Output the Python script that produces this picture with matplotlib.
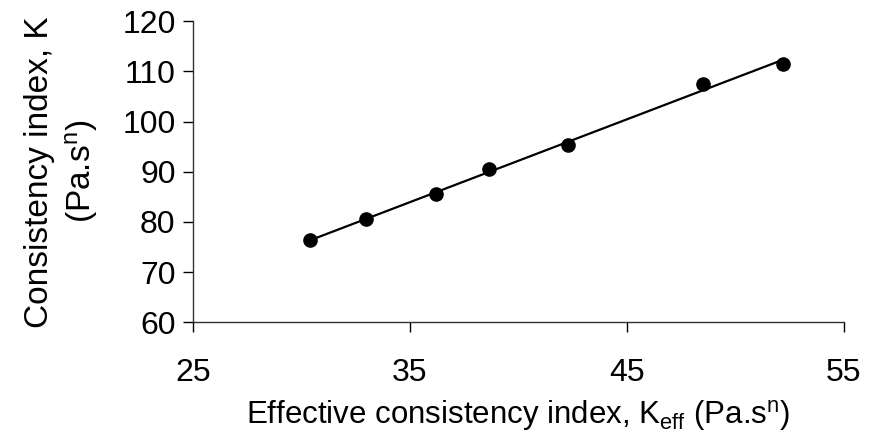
import numpy as np
import matplotlib
matplotlib.use("Agg")
import matplotlib.pyplot as plt

plt.rcParams['font.family'] = ['Liberation Sans', 'DejaVu Sans']
plt.rcParams['mathtext.fontset'] = 'custom'
plt.rcParams['mathtext.rm'] = 'Liberation Sans'
plt.rcParams['mathtext.it'] = 'Liberation Sans'

# data
k_eff = [30.4, 33.0, 36.2, 38.65, 42.3, 48.5, 52.2]
k = [76.4, 80.6, 85.5, 90.6, 95.3, 107.5, 111.5]
x_ticks = [25, 35, 45, 55]
y_ticks = [60, 70, 80, 90, 100, 110, 120]

fig = plt.figure(figsize=(8.69, 4.41), dpi=100)
ax = fig.add_axes([0.222, 0.269, 0.749, 0.683])

# linear trend line over the data range
slope, icpt = np.polyfit(k_eff, k, 1)
xl = np.array([min(k_eff), max(k_eff)])
ax.plot(xl, slope * xl + icpt, color='black', lw=1.6, zorder=2)
ax.plot(k_eff, k, 'o', color='black', ms=9.5, zorder=3)

ax.set_xlim(25, 55)
ax.set_ylim(60, 120)
ax.set_xticks(x_ticks)
ax.set_yticks(y_ticks)
ax.tick_params(labelsize=23, length=7.5, width=1, direction='out')
ax.tick_params(axis='x', pad=18)
ax.tick_params(axis='y', pad=5)

for s in ['top', 'right']:
    ax.spines[s].set_visible(False)
for s in ['left', 'bottom']:
    ax.spines[s].set_linewidth(1)
    ax.spines[s].set_color('#333333')

ax.set_xlabel(r'Effective consistency index, K$_{\mathregular{eff}}$ (Pa.s$^{\mathregular{n}}$)',
              fontsize=22.5, labelpad=7)
ax.set_ylabel('Consistency index, K\n' + r'(Pa.s$^{\mathregular{n}}$)',
              fontsize=24, labelpad=16, linespacing=1.3)

fig.savefig('out.png', dpi=100)
